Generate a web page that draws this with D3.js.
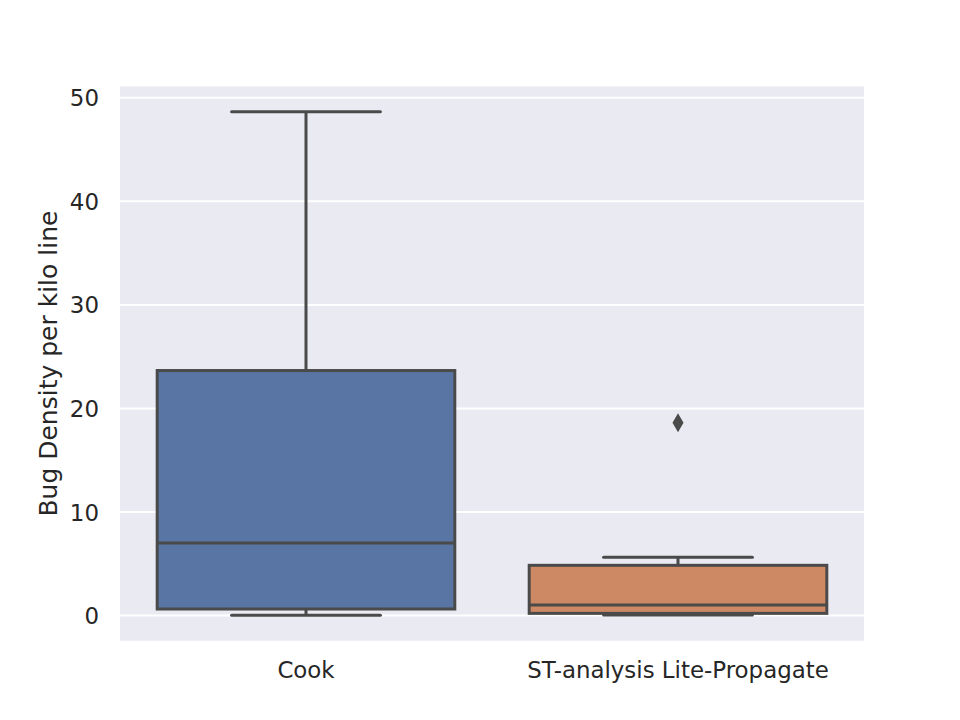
<!DOCTYPE html>
<html>
<head>
<meta charset="utf-8">
<script src="https://cdn.jsdelivr.net/npm/d3@7"></script>
<style>
  body { margin: 0; background: #fff; }
  text { font-family: "DejaVu Sans", sans-serif; fill: #262626; }
</style>
</head>
<body>
<svg id="chart" width="960" height="720"></svg>
<script>
// Box statistics
const groups = ["Cook", "ST-analysis Lite-Propagate"];
const q1 = [0.63, 0.21];
const median = [7.0, 1.01];
const q3 = [23.66, 4.85];
const whiskerLow = [0.02, 0.05];
const whiskerHigh = [48.66, 5.62];
const outliers = [[], [18.62]];
const boxColors = ["#5975a4", "#cc8963"];
const yTicks = [0, 10, 20, 30, 40, 50];

const margin = { top: 86.4, right: 96, bottom: 79.2, left: 120 };
const width = 960 - margin.left - margin.right;
const height = 720 - margin.top - margin.bottom;
const lineColor = "#4a4a4a";

const svg = d3.select("#chart");
const g = svg.append("g").attr("transform", `translate(${margin.left},${margin.top})`);

const x = d3.scaleBand().domain(groups).range([0, width]).padding(0);
const y = d3.scaleLinear().domain([-2.44, 51.1]).range([height, 0]);

g.append("rect")
  .attr("width", width)
  .attr("height", height)
  .attr("fill", "#eaeaf2");

// gridlines
g.append("g")
  .selectAll("line")
  .data(yTicks)
  .join("line")
  .attr("x1", 0)
  .attr("x2", width)
  .attr("y1", (d) => y(d))
  .attr("y2", (d) => y(d))
  .attr("stroke", "#fff")
  .attr("stroke-width", 2);

// axes (no tick marks, just labels)
const yAxis = g.append("g").call(d3.axisLeft(y).tickValues(yTicks).tickSize(0).tickPadding(21));
yAxis.select(".domain").remove();
yAxis.selectAll("text").attr("font-size", "22.9px").attr("dy", "0.35em").style("font-family", "DejaVu Sans");

const xAxis = g.append("g")
  .attr("transform", `translate(0,${height})`)
  .call(d3.axisBottom(x).tickSize(0).tickPadding(20));
xAxis.select(".domain").remove();
xAxis.selectAll("text").attr("font-size", "22.9px").attr("dy", "0.75em").style("font-family", "DejaVu Sans");

svg.append("text")
  .attr("transform", `translate(57,${margin.top + height / 2}) rotate(-90)`)
  .attr("text-anchor", "middle")
  .attr("font-size", "25px")
  .text("Bug Density per kilo line");

// boxes
const bw = x.bandwidth() * 0.8;
groups.forEach((name, i) => {
  const cx = x(name) + x.bandwidth() / 2;
  const box = g.append("g");

  // whiskers
  box.append("line")
    .attr("x1", cx).attr("x2", cx)
    .attr("y1", y(q3[i])).attr("y2", y(whiskerHigh[i]))
    .attr("stroke", lineColor).attr("stroke-width", 3);
  box.append("line")
    .attr("x1", cx).attr("x2", cx)
    .attr("y1", y(q1[i])).attr("y2", y(whiskerLow[i]))
    .attr("stroke", lineColor).attr("stroke-width", 3);

  [whiskerLow[i], whiskerHigh[i]].forEach((v) => {
    box.append("line")
      .attr("x1", cx - bw / 4).attr("x2", cx + bw / 4)
      .attr("y1", y(v)).attr("y2", y(v))
      .attr("stroke", lineColor).attr("stroke-width", 3)
      .attr("stroke-linecap", "round");
  });

  box.append("rect")
    .attr("x", cx - bw / 2)
    .attr("y", y(q3[i]))
    .attr("width", bw)
    .attr("height", y(q1[i]) - y(q3[i]))
    .attr("fill", boxColors[i])
    .attr("stroke", lineColor)
    .attr("stroke-width", 3);

  box.append("line")
    .attr("x1", cx - bw / 2).attr("x2", cx + bw / 2)
    .attr("y1", y(median[i])).attr("y2", y(median[i]))
    .attr("stroke", lineColor).attr("stroke-width", 3);

  box.selectAll("path.flier")
    .data(outliers[i])
    .join("path")
    .attr("class", "flier")
    .attr("d", "M0,-9.5L5.5,0L0,9.5L-5.5,0Z")
    .attr("transform", (d) => `translate(${cx},${y(d)})`)
    .attr("fill", lineColor);
});
</script>
</body>
</html>
